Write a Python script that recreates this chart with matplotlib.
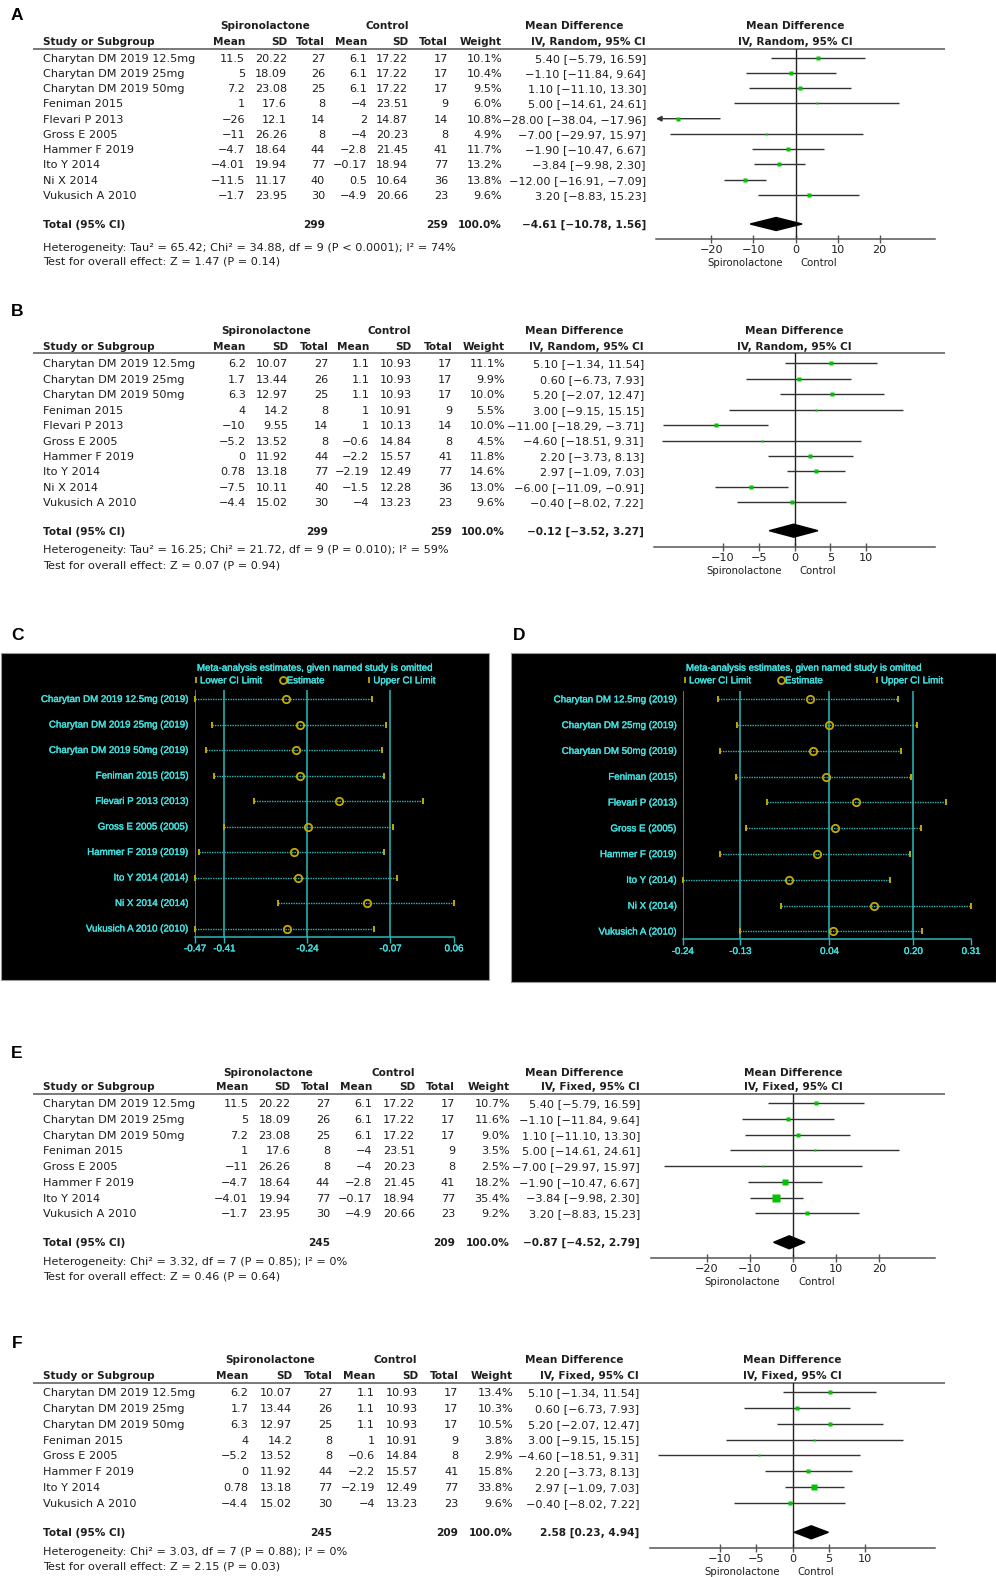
import numpy as np
import matplotlib
matplotlib.use("Agg")
import matplotlib.pyplot as plt
from matplotlib import font_manager as fm
from matplotlib import patheffects as pe
from matplotlib.patches import Rectangle

W, H = 996, 1577

# ---------------- data: continuous outcome, random effects (A) ----------------
studies = ["Charytan DM 2019 12.5mg", "Charytan DM 2019 25mg", "Charytan DM 2019 50mg",
           "Feniman 2015", "Flevari P 2013", "Gross E 2005", "Hammer F 2019",
           "Ito Y 2014", "Ni X 2014", "Vukusich A 2010"]
sp_n = [27, 26, 25, 8, 14, 8, 44, 77, 40, 30]
ct_n = [17, 17, 17, 9, 14, 8, 41, 77, 36, 23]

sp_mean_A = [11.5, 5, 7.2, 1, -26, -11, -4.7, -4.01, -11.5, -1.7]
sp_sd_A = [20.22, 18.09, 23.08, 17.6, 12.1, 26.26, 18.64, 19.94, 11.17, 23.95]
ct_mean_A = [6.1, 6.1, 6.1, -4, 2, -4, -2.8, -0.17, 0.5, -4.9]
ct_sd_A = [17.22, 17.22, 17.22, 23.51, 14.87, 20.23, 21.45, 18.94, 10.64, 20.66]
weight_A = [10.1, 10.4, 9.5, 6.0, 10.8, 4.9, 11.7, 13.2, 13.8, 9.6]
md_A = [5.40, -1.10, 1.10, 5.00, -28.00, -7.00, -1.90, -3.84, -12.00, 3.20]
lo_A = [-5.79, -11.84, -11.10, -14.61, -38.04, -29.97, -10.47, -9.98, -16.91, -8.83]
hi_A = [16.59, 9.64, 13.30, 24.61, -17.96, 15.97, 6.67, 2.30, -7.09, 15.23]
total_A = (-4.61, -10.78, 1.56)
het_A = "Heterogeneity: Tau\u00b2 = 65.42; Chi\u00b2 = 34.88, df = 9 (P < 0.0001); I\u00b2 = 74%"
test_A = "Test for overall effect: Z = 1.47 (P = 0.14)"

# ---------------- data: second outcome, random effects (B) ----------------
sp_mean_B = [6.2, 1.7, 6.3, 4, -10, -5.2, 0, 0.78, -7.5, -4.4]
sp_sd_B = [10.07, 13.44, 12.97, 14.2, 9.55, 13.52, 11.92, 13.18, 10.11, 15.02]
ct_mean_B = [1.1, 1.1, 1.1, 1, 1, -0.6, -2.2, -2.19, -1.5, -4]
ct_sd_B = [10.93, 10.93, 10.93, 10.91, 10.13, 14.84, 15.57, 12.49, 12.28, 13.23]
weight_B = [11.1, 9.9, 10.0, 5.5, 10.0, 4.5, 11.8, 14.6, 13.0, 9.6]
md_B = [5.10, 0.60, 5.20, 3.00, -11.00, -4.60, 2.20, 2.97, -6.00, -0.40]
lo_B = [-1.34, -6.73, -2.07, -9.15, -18.29, -18.51, -3.73, -1.09, -11.09, -8.02]
hi_B = [11.54, 7.93, 12.47, 15.15, -3.71, 9.31, 8.13, 7.03, -0.91, 7.22]
total_B = (-0.12, -3.52, 3.27)
het_B = "Heterogeneity: Tau\u00b2 = 16.25; Chi\u00b2 = 21.72, df = 9 (P = 0.010); I\u00b2 = 59%"
test_B = "Test for overall effect: Z = 0.07 (P = 0.94)"

# ---------------- fixed-effect re-analyses without Flevari P and Ni X (E, F) ----------------
kept = [0, 1, 2, 3, 5, 6, 7, 9]
weight_E = [10.7, 11.6, 9.0, 3.5, 2.5, 18.2, 35.4, 9.2]
total_E = (-0.87, -4.52, 2.79)
het_E = "Heterogeneity: Chi\u00b2 = 3.32, df = 7 (P = 0.85); I\u00b2 = 0%"
test_E = "Test for overall effect: Z = 0.46 (P = 0.64)"

weight_F = [13.4, 10.3, 10.5, 3.8, 2.9, 15.8, 33.8, 9.6]
total_F = (2.58, 0.23, 4.94)
het_F = "Heterogeneity: Chi\u00b2 = 3.03, df = 7 (P = 0.88); I\u00b2 = 0%"
test_F = "Test for overall effect: Z = 2.15 (P = 0.03)"

total_weight = 100.0

# ---------------- leave-one-out sensitivity (C, D) ----------------
loo_names_C = ["Charytan DM 2019 12.5mg (2019)", "Charytan DM 2019 25mg (2019)",
               "Charytan DM 2019 50mg (2019)", "Feniman 2015 (2015)", "Flevari P 2013 (2013)",
               "Gross E 2005 (2005)", "Hammer F 2019 (2019)", "Ito Y 2014 (2014)",
               "Ni X 2014 (2014)", "Vukusich A 2010 (2010)"]
loo_lower_C = [-0.470, -0.436, -0.447, -0.432, -0.350, -0.410, -0.461, -0.469, -0.300, -0.470]
loo_est_C = [-0.284, -0.255, -0.264, -0.255, -0.176, -0.238, -0.268, -0.259, -0.119, -0.282]
loo_upper_C = [-0.108, -0.079, -0.087, -0.083, -0.004, -0.065, -0.083, -0.057, 0.060, -0.103]
loo_ticks_C = [-0.47, -0.41, -0.24, -0.07, 0.06]

loo_names_D = ["Charytan DM 12.5mg (2019)", "Charytan DM 25mg (2019)", "Charytan DM 50mg (2019)",
               "Feniman (2015)", "Flevari P (2013)", "Gross E (2005)", "Hammer F (2019)",
               "Ito Y (2014)", "Ni X (2014)", "Vukusich A (2010)"]
loo_lower_D = [-0.173, -0.137, -0.168, -0.138, -0.080, -0.120, -0.168, -0.240, -0.053, -0.130]
loo_est_D = [0.003, 0.039, 0.008, 0.033, 0.091, 0.050, 0.017, -0.038, 0.125, 0.046]
loo_upper_D = [0.171, 0.207, 0.177, 0.196, 0.262, 0.214, 0.193, 0.156, 0.310, 0.217]
loo_ticks_D = [-0.24, -0.13, 0.04, 0.20, 0.31]

# ---------------- figure scaffolding (pixel coordinates) ----------------
fig = plt.figure(figsize=(W / 100, H / 100), dpi=100)
bg = fig.add_axes([0, 0, 1, 1])
bg.set_xlim(0, W)
bg.set_ylim(H, 0)
bg.axis("off")

INK = "#1e1e1e"
TXT = dict(family="DejaVu Sans", size=8.1, color=INK)
FAV = dict(family="DejaVu Sans", size=7.3, color=INK)
_installed = {f.name for f in fm.fontManager.ttflist}
if "DejaVu Sans Condensed" in _installed:
    BOLD = dict(family="DejaVu Sans Condensed", size=8.3, fontweight="bold", color=INK)
else:
    BOLD = dict(family="DejaVu Sans", size=7.55, fontweight="bold", color=INK)
MINUS = "\u2212"


def px_axes(x0, x1, ytop, ybot):
    return fig.add_axes([x0 / W, 1 - ybot / H, (x1 - x0) / W, (ybot - ytop) / H])


def num(v):
    return f"{v:g}".replace("-", MINUS)


def ci_text(m, lo, hi):
    return f"{m:.2f} [{lo:.2f}, {hi:.2f}]".replace("-", MINUS)


def put(x, y, s, bold=False, **kw):
    style = dict(BOLD if bold else TXT)
    style.update(kw)
    bg.text(x, y + 1, s, va="center", **style)


def panel_letter(x, y, s):
    bg.text(x, y, s, family="Liberation Sans", fontsize=12.5, fontweight="bold",
            ha="center", va="center", color="black")


def forest_panel(letter, lay, names, spm, sps, spn, ctm, cts, ctn, wts, md, lo, hi,
                 total, het, test, model):
    n = len(names)
    cols = lay["cols"]
    panel_letter(17, lay["label_y"], letter)

    # column headers
    put(lay["spiro_c"], lay["grp_y"], "Spironolactone", bold=True, ha="center")
    put(lay["ctrl_c"], lay["grp_y"], "Control", bold=True, ha="center")
    put(574, lay["grp_y"], "Mean Difference", bold=True, ha="center")
    put(43, lay["hdr_y"], "Study or Subgroup", bold=True, ha="left")
    for x, h in zip(cols, ["Mean", "SD", "Total", "Mean", "SD", "Total"]):
        put(x, lay["hdr_y"], h, bold=True, ha="right")
    put(lay["weight_r"], lay["hdr_y"], "Weight", bold=True, ha="right")
    put(lay["md_r"], lay["hdr_y"], f"IV, {model}, 95% CI", bold=True, ha="right")
    bg.plot([33, 945], [lay["line_y"], lay["line_y"]], color="#555555", lw=1.1,
            solid_capstyle="butt")

    rows = lay["row0"] + lay["dy"] * np.arange(n)
    for i, y in enumerate(rows):
        put(43, y, names[i], ha="left")
        vals = [num(spm[i]), num(sps[i]), str(spn[i]), num(ctm[i]), num(cts[i]), str(ctn[i])]
        for x, v in zip(cols, vals):
            put(x, y, v, ha="right")
        put(lay["weight_r"], y, f"{wts[i]:.1f}%", ha="right")
        put(lay["md_r"], y, ci_text(md[i], lo[i], hi[i]), ha="right")

    ty = lay["total_y"]
    put(43, ty, "Total (95% CI)", bold=True, ha="left")
    put(cols[2], ty, str(sum(spn)), bold=True, ha="right")
    put(cols[5], ty, str(sum(ctn)), bold=True, ha="right")
    put(lay["weight_r"], ty, f"{total_weight:.1f}%", bold=True, ha="right")
    put(lay["md_r"], ty, ci_text(*total), bold=True, ha="right")
    put(43, lay["het_y"], het, ha="left")
    put(43, lay["test_y"], test, ha="left")

    # forest plot
    R = lay["R"]
    ax = px_axes(lay["x0"], lay["x1"], lay["line_y"], lay["axis_y"])
    ax.set_xlim(-R, R)
    ax.set_ylim(lay["axis_y"], lay["line_y"])
    ax.patch.set_alpha(0)
    for s in ["top", "left", "right"]:
        ax.spines[s].set_visible(False)
    ax.spines["bottom"].set_color("#555555")
    ax.spines["bottom"].set_linewidth(1.1)
    ax.set_yticks([])
    ax.set_xticks(lay["ticks"])
    ax.tick_params(axis="x", direction="inout", length=6, width=1.0, color="#555555",
                   labelbottom=False)
    ax.axvline(0, color="#222222", lw=1.0)

    for i, y in enumerate(rows):
        a, b = max(lo[i], -R), min(hi[i], R)
        if lo[i] < -R:
            ax.annotate("", xy=(-R, y), xytext=(b, y), annotation_clip=False,
                        arrowprops=dict(arrowstyle="-|>", color="#333333", lw=1.0,
                                        mutation_scale=8, shrinkA=0, shrinkB=0))
        else:
            ax.plot([a, b], [y, y], color="#333333", lw=1.0, solid_capstyle="butt",
                    clip_on=False)
        side = max(1.6, 1.18 * np.sqrt(wts[i]))
        ax.plot(md[i], y, marker="s", ms=side / 1.389, color="#00c400", mec="none",
                clip_on=False, zorder=4)

    m, l, h = total
    ax.fill([l, m, h, m], [ty, ty - 6.5, ty, ty + 6.5], color="black", zorder=5,
            clip_on=False)

    for tv in lay["ticks"]:
        ax.text(tv, lay["tick_y"] + 1, num(tv), ha="center", va="center", **TXT)
    ax.annotate("Spironolactone", xy=(0, lay["fav_y"] + 1), xytext=(-13 * 0.72, 0),
                textcoords="offset points", ha="right", va="center",
                annotation_clip=False, **FAV)
    ax.annotate("Control", xy=(0, lay["fav_y"] + 1), xytext=(5 * 0.72, 0),
                textcoords="offset points", ha="left", va="center",
                annotation_clip=False, **FAV)
    zero_px = lay["x0"] + (lay["x1"] - lay["x0"]) / 2
    put(zero_px, lay["grp_y"], "Mean Difference", bold=True, ha="center")
    put(zero_px, lay["hdr_y"], f"IV, {model}, 95% CI", bold=True, ha="center")


LAY_A = dict(label_y=16, grp_y=25, hdr_y=41, line_y=49, row0=57.7, dy=15.25, total_y=224,
             het_y=247, test_y=261, cols=[245, 287, 325, 367, 408, 448], weight_r=502,
             md_r=646, spiro_c=265, ctrl_c=387, x0=656, x1=935, axis_y=239, R=33.2,
             ticks=[-20, -10, 0, 10, 20], tick_y=249, fav_y=262)
LAY_B = dict(label_y=311, grp_y=330.5, hdr_y=345.7, line_y=352.7, row0=363.3, dy=15.45,
             total_y=530.7, het_y=549, test_y=564.3,
             cols=[245.7, 288.3, 328.3, 369.3, 411.7, 452.3], weight_r=505, md_r=644,
             spiro_c=266, ctrl_c=389.7, x0=654, x1=935, axis_y=546.7, R=19.6,
             ticks=[-10, -5, 0, 5, 10], tick_y=556.7, fav_y=570)
LAY_E = dict(label_y=1053, grp_y=1071.5, hdr_y=1086.5, line_y=1093.5, row0=1103.3, dy=15.7,
             total_y=1242.3, het_y=1260.7, test_y=1275.7,
             cols=[248.3, 290.7, 330, 372.3, 415, 455], weight_r=510, md_r=640,
             spiro_c=268.3, ctrl_c=393, x0=651, x1=935, axis_y=1258, R=33,
             ticks=[-20, -10, 0, 10, 20], tick_y=1268.3, fav_y=1280.7)
LAY_F = dict(label_y=1343, grp_y=1359.3, hdr_y=1375, line_y=1382.5, row0=1392.3, dy=15.76,
             total_y=1532.3, het_y=1550.7, test_y=1565.7,
             cols=[248.3, 292.3, 332.3, 375, 418.3, 458.3], weight_r=513, md_r=639,
             spiro_c=270, ctrl_c=395.5, x0=650, x1=935, axis_y=1548, R=19.6,
             ticks=[-10, -5, 0, 5, 10], tick_y=1558.3, fav_y=1570.7)


def pick(seq):
    return [seq[i] for i in kept]


forest_panel("A", LAY_A, studies, sp_mean_A, sp_sd_A, sp_n, ct_mean_A, ct_sd_A, ct_n,
             weight_A, md_A, lo_A, hi_A, total_A, het_A, test_A, "Random")
forest_panel("B", LAY_B, studies, sp_mean_B, sp_sd_B, sp_n, ct_mean_B, ct_sd_B, ct_n,
             weight_B, md_B, lo_B, hi_B, total_B, het_B, test_B, "Random")
forest_panel("E", LAY_E, pick(studies), pick(sp_mean_A), pick(sp_sd_A), pick(sp_n),
             pick(ct_mean_A), pick(ct_sd_A), pick(ct_n), weight_E, pick(md_A), pick(lo_A),
             pick(hi_A), total_E, het_E, test_E, "Fixed")
forest_panel("F", LAY_F, pick(studies), pick(sp_mean_B), pick(sp_sd_B), pick(sp_n),
             pick(ct_mean_B), pick(ct_sd_B), pick(ct_n), weight_F, pick(md_B), pick(lo_B),
             pick(hi_B), total_F, het_F, test_F, "Fixed")

# ---------------- leave-one-out panels ----------------
CYAN = "#40e2e2"
GRID = "#2bbaba"
GOLD = "#c2aa00"
LOO_TXT = dict(family="Liberation Sans", size=7, color=CYAN,
               path_effects=[pe.withStroke(linewidth=0.25, foreground=CYAN)])


def influence_panel(letter, lay, names, lower, est, upper, ticks):
    bx0, by0, bx1, by1 = lay["box"]
    bg.add_patch(Rectangle((bx0, by0), bx1 - bx0, by1 - by0, facecolor="black",
                           edgecolor="#9a9a9a", lw=0.8))
    panel_letter(lay["lx"], 636, letter)

    bg.text(lay["title_x"], 667.7, "Meta-analysis estimates, given named study is omitted",
            ha="center", va="center", **LOO_TXT)
    ly = 680.3
    lx1, lx2, lx3 = lay["legend_x"]
    bg.plot([lx1], [ly], ls="none", marker="|", ms=4.3, mew=1.3, color=GOLD)
    bg.text(lx1 + 4, ly, "Lower CI Limit", ha="left", va="center", **LOO_TXT)
    bg.plot([lx2], [ly], ls="none", marker="o", ms=5.0, mfc="none", mew=1.3, mec=GOLD)
    bg.text(lx2 + 4, ly, "Estimate", ha="left", va="center", **LOO_TXT)
    bg.plot([lx3], [ly], ls="none", marker="|", ms=4.3, mew=1.3, color=GOLD)
    bg.text(lx3 + 4, ly, "Upper CI Limit", ha="left", va="center", **LOO_TXT)

    x0, x1, top, bot = lay["axes"]
    ax = px_axes(x0, x1, top, bot)
    ax.set_xlim(ticks[0], ticks[-1])
    ax.set_ylim(bot, top)
    ax.patch.set_alpha(0)
    for s in ["top", "left", "right"]:
        ax.spines[s].set_visible(False)
    ax.spines["bottom"].set_color(GRID)
    ax.spines["bottom"].set_linewidth(1.1)
    ax.set_yticks([])
    ax.set_xticks(ticks)
    ax.tick_params(axis="x", direction="out", length=4.5, width=1.0, color=GRID,
                   labelbottom=False)
    for v in ticks[:-1]:
        ax.axvline(v, color=GRID, lw=1.1)

    rows = lay["row0"] + lay["dy"] * np.arange(len(names))
    for i, y in enumerate(rows):
        bg.text(lay["label_r"], y, names[i], ha="right", va="center", **LOO_TXT)
        ax.plot([lower[i], upper[i]], [y, y], ls=(0, (1, 0.8)), color="#30b8b8", lw=1.0,
                clip_on=False)
        ax.plot([lower[i], upper[i]], [y, y], ls="none", marker="|", ms=4.8, mew=1.4,
                color=GOLD, clip_on=False, zorder=4)
        ax.plot(est[i], y, marker="o", ms=5.3, mfc="none", mew=1.3, mec=GOLD,
                clip_on=False, zorder=5)

    for v in ticks:
        ax.text(v, lay["tick_y"], f"{v:.2f}", ha="center", va="center", **LOO_TXT)


LAY_C = dict(box=(0.5, 653, 489, 980), lx=17, title_x=315, legend_x=(196, 282.7, 369.3),
             axes=(195, 454, 690, 937.3), row0=699, dy=25.5, label_r=188.3, tick_y=948.3)
LAY_D = dict(box=(511, 653, 995.5, 982), lx=519, title_x=804, legend_x=(685, 781, 877),
             axes=(682.7, 971, 691, 939.3), row0=699.3, dy=25.8, label_r=676.7, tick_y=951)

influence_panel("C", LAY_C, loo_names_C, loo_lower_C, loo_est_C, loo_upper_C, loo_ticks_C)
influence_panel("D", LAY_D, loo_names_D, loo_lower_D, loo_est_D, loo_upper_D, loo_ticks_D)

fig.savefig("out.png", dpi=100, facecolor="white")
